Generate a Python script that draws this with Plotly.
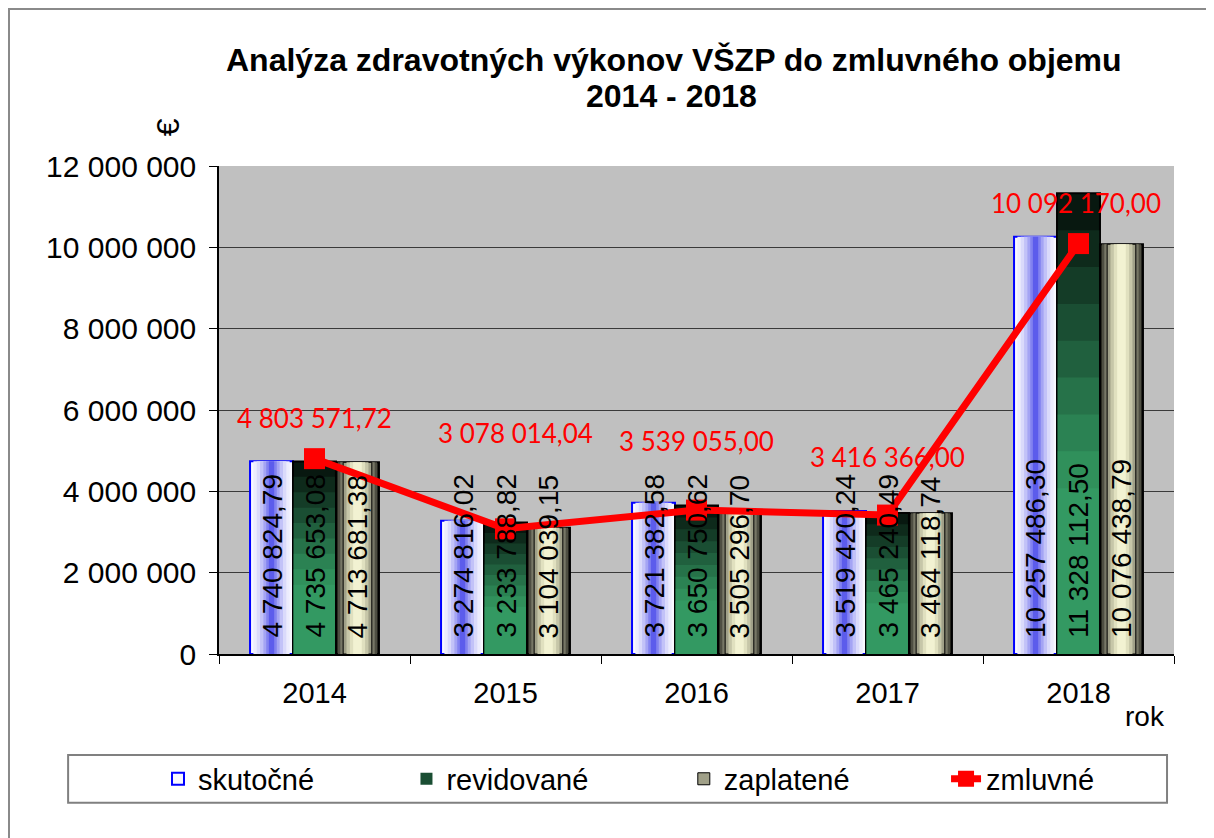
import plotly.graph_objects as go

# ---------------- data ----------------
years = ["2014", "2015", "2016", "2017", "2018"]
skutocne = [4740824.79, 3274816.02, 3721382.58, 3519420.24, 10257486.30]
revidovane = [4735653.08, 3233788.82, 3650750.62, 3465240.49, 11328112.50]
zaplatene = [4713681.38, 3104039.15, 3505296.70, 3464118.74, 10076438.79]
zmluvne = [4803571.72, 3078014.04, 3539055.00, 3416366.00, 10092170.00]
y_ticks = [0, 2000000, 4000000, 6000000, 8000000, 10000000, 12000000]
title_lines = ["Analýza zdravotných výkonov VŠZP do zmluvného objemu", "2014 - 2018"]

# ---------------- style ----------------
FONT = "Liberation Sans"
BW = 0.225  # bar width in category units
centers = {"skut": -BW, "revid": 0.0, "zapl": BW}
# red label offsets (px) relative to the markers
line_label_shift = [41, 96, 69, 58, 41]
line_label_xshift = [0, 10, 0, 0, -3]
legend_x = [-0.0639, 0.1963, 0.4867, 0.7613]


def fmt(v, dec=2):
    s = f"{v:,.{dec}f}"
    return s.replace(",", " ").replace(".", ",")


fig = go.Figure()

# skutočné: horizontal gradient white edges -> blue centre
skut_layers = [(BW, "#f8f8ff"), (0.19, "#ececfd"), (0.155, "#dadafb"), (0.12, "#c2c2f8"),
               (0.085, "#a4a4f4"), (0.055, "#8282f0"), (0.028, "#5c5cec")]
for k, (w, c) in enumerate(skut_layers):
    fig.add_trace(go.Bar(
        x=years, y=skutocne, width=w, offset=centers["skut"] - w / 2,
        marker=dict(color=c, line=dict(color="#0000ff" if k == 0 else c, width=2 if k == 0 else 0)),
        name="skutočné", showlegend=(k == 0), legendgroup="skut", legend="legend",
        hoverinfo="skip"))

# revidované: vertical gradient dark top -> green bottom
revid_layers = [(1.0, "#081810"), (0.92, "#0e2a1b"), (0.84, "#143c27"), (0.76, "#1a4e33"),
                (0.68, "#20603e"), (0.60, "#267249"), (0.52, "#2b8253"), (0.44, "#30905b"),
                (0.36, "#339962")]
for k, (f, c) in enumerate(revid_layers):
    w = BW if k == 0 else BW - 0.008
    fig.add_trace(go.Bar(
        x=years, y=[v * f for v in revidovane], width=w, offset=centers["revid"] - w / 2,
        marker=dict(color=c, line=dict(color="#000000" if k == 0 else c, width=2 if k == 0 else 0)),
        name="revidované", showlegend=(k == 3), legendgroup="revid", legend="legend2",
        hoverinfo="skip"))

# zaplatené: horizontal gradient dark edges -> cream centre
zapl_layers = [(BW, "#26261f"), (0.205, "#4e4e42"), (0.18, "#777766"), (0.15, "#a0a088"),
               (0.115, "#c6c6a8"), (0.08, "#e0e0bf"), (0.045, "#f2f2d2")]
for k, (w, c) in enumerate(zapl_layers):
    fig.add_trace(go.Bar(
        x=years, y=zaplatene, width=w, offset=centers["zapl"] - w / 2,
        marker=dict(color=c, line=dict(color="#000000" if k in (0, 3) else c,
                                       width=2 if k == 0 else (1 if k == 3 else 0))),
        name="zaplatené", showlegend=(k == 3), legendgroup="zapl", legend="legend3",
        hoverinfo="skip"))

# zmluvné line
fig.add_trace(go.Scatter(
    x=years, y=zmluvne, mode="lines+markers", name="zmluvné", legend="legend4",
    line=dict(color="#ff0000", width=7),
    marker=dict(symbol="square", size=21, color="#ff0000")))

annotations = []
# title (two lines)
annotations.append(dict(x=0.4764, y=1.2172, xref="paper", yref="paper", text="<b>" + title_lines[0] + "</b>",
                        xanchor="center", yanchor="middle", showarrow=False,
                        font=dict(family=FONT, size=32, color="#000000")))
annotations.append(dict(x=0.4743, y=1.1434, xref="paper", yref="paper", text="<b>" + title_lines[1] + "</b>",
                        xanchor="center", yanchor="middle", showarrow=False,
                        font=dict(family=FONT, size=32, color="#000000")))
# bar value labels (rotated)
for series, key in ((skutocne, "skut"), (revidovane, "revid"), (zaplatene, "zapl")):
    for i, v in enumerate(series):
        annotations.append(dict(
            x=i + centers[key], y=0, xref="x", yref="y", text=fmt(v),
            textangle=-90, showarrow=False, yanchor="bottom", xanchor="center",
            yshift=14, font=dict(family=FONT, size=28, color="#000000")))
# line value labels
for i, v in enumerate(zmluvne):
    annotations.append(dict(
        x=i, y=v, xref="x", yref="y", text=fmt(v), showarrow=False,
        xanchor="center", yanchor="middle",
        yshift=line_label_shift[i], xshift=line_label_xshift[i],
        font=dict(family="Lato", size=26, color="#ff0000")))
# axis titles
annotations.append(dict(x=0.97, y=-0.129, xref="paper", yref="paper", text="rok",
                        xanchor="center", yanchor="middle",
                        showarrow=False, font=dict(family=FONT, size=28, color="#000000")))
annotations.append(dict(x=-0.053, y=1.08, xref="paper", yref="paper", text="€",
                        xanchor="center", yanchor="middle",
                        textangle=-90, showarrow=False, font=dict(family=FONT, size=32, color="#000000")))

shapes = [
    # outer chart border
    dict(type="rect", xref="paper", yref="paper", x0=-0.2199, x1=1.0398, y0=-0.40, y1=1.3217,
         line=dict(color="#8a8a8a", width=2), layer="below"),
    # legend box
    dict(type="rect", xref="paper", yref="paper", x0=-0.158, x1=0.9927, y0=-0.305, y1=-0.207,
         line=dict(color="#808080", width=2), fillcolor="rgba(0,0,0,0)"),
]

legend_common = dict(orientation="h", xanchor="left", y=-0.256, yanchor="middle",
                     bgcolor="rgba(0,0,0,0)", borderwidth=0,
                     font=dict(family=FONT, size=29, color="#000000"))

fig.update_layout(
    width=1214, height=838,
    margin=dict(l=211, r=48, t=158, b=192),
    paper_bgcolor="#ffffff", plot_bgcolor="#c0c0c0",
    barmode="overlay",
    separators=", ",
    font=dict(family=FONT, size=29, color="#000000"),
    xaxis=dict(type="category", showline=True, linecolor="#000000", linewidth=1.5,
               ticks="outside", tickson="boundaries", ticklen=8, tickcolor="#000000",
               ticklabelstandoff=12, showgrid=False,
               tickfont=dict(family=FONT, size=29), range=[-0.5, 4.5]),
    yaxis=dict(range=[0, 12000000], tickvals=y_ticks, tickformat=",d",
               showline=True, linecolor="#000000", linewidth=1.5,
               ticks="outside", ticklen=8, tickcolor="#000000", ticklabelstandoff=7,
               showgrid=True, gridcolor="#3a3a3a", gridwidth=1, zeroline=False,
               tickfont=dict(family=FONT, size=30)),
    legend=dict(x=legend_x[0], **legend_common),
    legend2=dict(x=legend_x[1], **legend_common),
    legend3=dict(x=legend_x[2], **legend_common),
    legend4=dict(x=legend_x[3], **legend_common),
    annotations=annotations,
    shapes=shapes,
    showlegend=True,
)

fig.write_html("out.html")
